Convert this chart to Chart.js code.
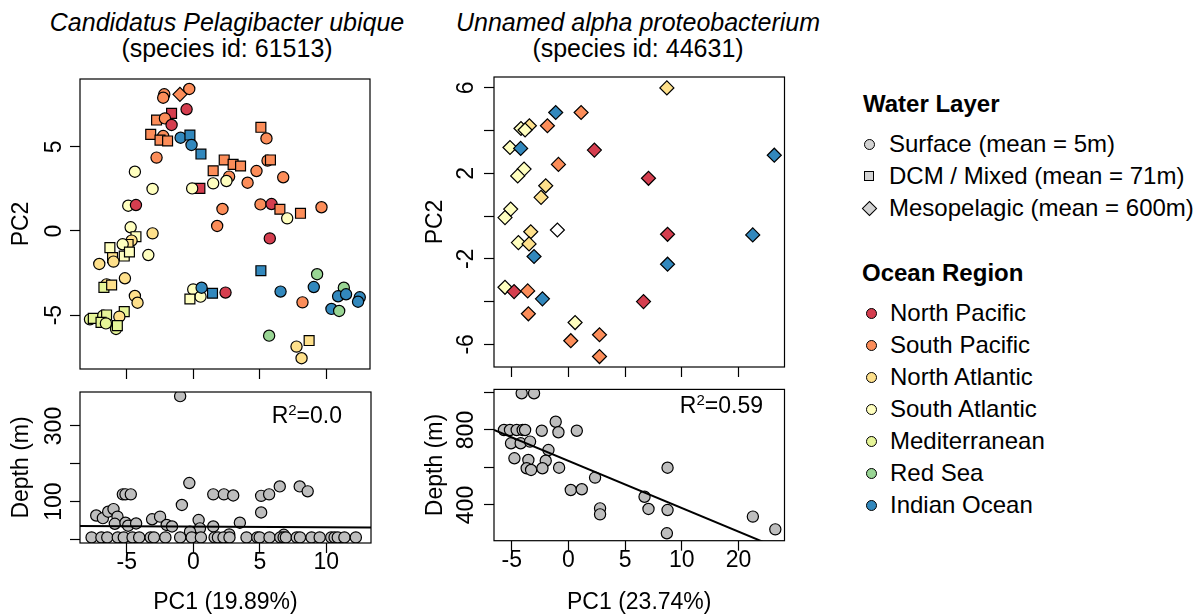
<!DOCTYPE html>
<html>
<head>
<meta charset="utf-8">
<script src="https://cdn.jsdelivr.net/npm/chart.js@4.4.1/dist/chart.umd.min.js"></script>
<style>
  body { margin: 0; background: #fff; font-family: 'Liberation Sans', Arial, sans-serif; color: #000; }
  #page { position: relative; width: 1201px; height: 616px; overflow: hidden; }
  canvas { position: absolute; }
  .title { position: absolute; top: 9px; width: 440px; font-size: 25px; line-height: 26px; text-align: center; }
  .leg { position: absolute; font-size: 24px; line-height: 32px; white-space: nowrap; }
  .head { font-weight: bold; }
  .sym { position: absolute; border: 1px solid #000; box-sizing: border-box; }
</style>
</head>
<body>
<div id="page">
  <div class="title" style="left:7px"><i>Candidatus Pelagibacter ubique</i><br>(species id: 61513)</div>
  <div class="title" style="left:418px"><i>Unnamed alpha proteobacterium</i><br>(species id: 44631)</div>
  <canvas id="pcaA"   width="385" height="320" style="left:0;top:60px"></canvas>
  <canvas id="depthA" width="385" height="236" style="left:0;top:380px"></canvas>
  <canvas id="pcaB"   width="385" height="320" style="left:414px;top:60px"></canvas>
  <canvas id="depthB" width="385" height="236" style="left:414px;top:380px"></canvas>
  <div id="legend"></div>
</div>
<script>
// ============================================================
// PCA of two species, coloured by ocean region, shaped by layer
// ============================================================

const REGION_COLORS = {
  NP:  '#D53E4F',   // North Pacific
  SP:  '#FC8D59',   // South Pacific
  NAt: '#FEE08B',   // North Atlantic
  SAt: '#FFFFBF',   // South Atlantic
  Med: '#E6F598',   // Mediterranean
  RS:  '#99D594',   // Red Sea
  IO:  '#3288BD',   // Indian Ocean
  '?': '#FFFFFF',
};
const REGION_NAMES = ['North Pacific', 'South Pacific', 'North Atlantic', 'South Atlantic',
                      'Mediterranean', 'Red Sea', 'Indian Ocean'];
const REGION_KEYS  = ['NP', 'SP', 'NAt', 'SAt', 'Med', 'RS', 'IO'];
const LAYER_NAMES  = ['Surface (mean = 5m)', 'DCM / Mixed (mean = 71m)', 'Mesopelagic (mean = 600m)'];
const LAYER_KEYS   = ['S', 'D', 'M'];
const LAYER_STYLE  = { S: 'circle', D: 'rect', M: 'rectRot' };
const LAYER_RADIUS = { S: 5.6, D: 7, M: 7 };
const GREY = '#BEBEBE';

// ---- species 61513 : PCA ----
const pc1A = [-0.3, -1.0, -2.18, -2.26, -0.5, -1.63, -2.76, -2.13, -1.63, -3.2,
  -2.26, -2.5, -1.93, -0.95, -0.25, -0.13, 0.58, 5.09, 5.51, 5.59,
  5.81, -2.76, 2.33, 3.0, 3.56, 1.5, 2.7, 4.76, 6.77, 4.09,
  -4.39, -3.06, 1.5, 2.5, 0.5, -0.08, 2.2, 1.8, 5.06, 5.89,
  6.52, 7.07, 8.07, 9.65, 5.76, -4.89, -4.31, -4.71, -3.06, -4.31,
  -4.64, -4.9, -5.31, -6.27, -6.07, -5.19, -4.8, -7.07, -3.38, -6.0,
  -5.14, -6.52, -6.72, -6.14, -4.39, -4.19, -5.19, -5.56, -7.77, -7.52,
  -6.77, -6.52, -6.94, -6.57, -5.81, -5.71, 0.0, 0.55, -0.25, 0.63,
  1.45, 2.43, 5.09, 6.57, 8.22, 9.32, 9.07, 11.33, 10.9, 11.5,
  12.53, 12.4, 10.4, 10.98, 5.71, 7.77, 8.15, 8.72];
const pc2A = [8.44, 8.12, 8.12, 7.92, 7.23, 6.99, 6.59, 6.69, 6.3, 5.74,
  5.64, 5.4, 5.35, 5.54, 5.7, 5.11, 4.57, 6.16, 5.5, 4.18,
  4.22, 4.36, 4.22, 3.96, 3.86, 3.58, 3.23, 3.56, 3.19, 2.87,
  3.52, 2.5, 2.83, 2.97, 2.53, 2.53, 1.31, 0.3, 1.58, 1.6,
  1.29, 0.75, 1.05, 1.41, -0.44, 1.5, 1.54, 0.22, -0.14, -0.34,
  -0.57, -0.8, -0.79, -0.99, -1.58, -1.49, -1.25, -1.96, -1.43, -1.82,
  -2.81, -3.17, -3.35, -3.21, -3.86, -4.26, -4.79, -5.09, -5.25, -5.19,
  -5.03, -4.99, -5.43, -5.49, -5.82, -5.62, -3.47, -3.9, -4.04, -3.37,
  -3.7, -3.66, -2.36, -3.6, -4.24, -2.57, -3.33, -3.37, -3.88, -3.76,
  -3.94, -4.2, -4.63, -4.75, -6.22, -6.87, -7.56, -6.51];
const regionA = ['SP', 'SP', 'SP', 'SP', 'NP', 'NP', 'SP', 'SP', 'NP', 'SP',
  'SP', 'SP', 'SP', 'IO', 'IO', 'IO', 'IO', 'SP', 'SP', 'SP',
  'SP', 'SP', 'SP', 'SP', 'SP', 'SP', 'SP', 'SP', 'SP', 'SP',
  'SAt', 'SAt', 'SAt', 'SAt', 'NP', 'SAt', 'SP', 'SP', 'SP', 'NP',
  'SP', 'SAt', 'SP', 'SP', 'NP', 'SAt', 'NP', 'SAt', 'NAt', 'SAt',
  'NAt', 'NAt', 'SAt', 'SAt', 'NAt', 'SAt', 'SAt', 'NAt', 'SAt', 'NAt',
  'NAt', 'NAt', 'Med', 'NAt', 'NAt', 'NAt', 'Med', 'NAt', 'Med', 'Med',
  'Med', 'Med', 'Med', 'Med', 'Med', 'Med', 'SAt', 'SAt', 'SAt', 'IO',
  'IO', 'NP', 'IO', 'IO', 'SP', 'RS', 'IO', 'RS', 'IO', 'IO',
  'IO', 'IO', 'IO', 'RS', 'RS', 'NAt', 'NAt', 'NAt'];
const layerA = ['S', 'M', 'S', 'S', 'S', 'D', 'D', 'S', 'S', 'D',
  'S', 'D', 'D', 'S', 'D', 'S', 'D', 'D', 'S', 'S',
  'D', 'S', 'D', 'D', 'D', 'D', 'S', 'S', 'S', 'S',
  'S', 'S', 'S', 'S', 'D', 'S', 'S', 'S', 'S', 'S',
  'D', 'S', 'D', 'S', 'S', 'S', 'S', 'S', 'S', 'D',
  'S', 'D', 'S', 'D', 'D', 'D', 'D', 'S', 'S', 'S',
  'S', 'S', 'D', 'D', 'S', 'S', 'D', 'S', 'S', 'D',
  'S', 'D', 'D', 'S', 'S', 'D', 'S', 'S', 'D', 'S',
  'D', 'S', 'D', 'S', 'S', 'S', 'S', 'S', 'S', 'S',
  'S', 'S', 'S', 'S', 'S', 'S', 'S', 'D'];

// ---- species 61513 : depth vs PC1 ----
const depthPc1A = [-0.99, -0.3, -0.86, -5.3, -5.1, -4.7, -7.3, -6.8, -6.4, -6.0,
  -5.7, -5.9, -5.1, -4.9, -4.3, -3.1, -2.5, -2.0, -1.6, 0.4,
  0.5, -0.25, 1.5, 1.5, 2.3, 3.0, 3.5, 5.1, 5.7, 6.5,
  5.1, 8.0, 8.6, 2.7, 6.8,
  -7.65, -6.91, -6.47, -5.68, -5.23, -4.57, -4.07, -3.21, -2.96, -2.1,
  -0.99, -0.12, 0.57, 1.6, 1.85, 2.27, 2.72, 4.0, 4.81, 4.99,
  5.73, 6.54, 6.79, 6.96, 7.78, 8.02, 8.89, 9.5, 10.37, 10.62,
  10.86, 11.36, 12.22];
const depthA = [379, 149, 91, 119, 119, 119, 63, 56, 73, 80,
  60, 41, 44, 36, 42, 53, 60, 38, 34, 51,
  29, 20, 34, 119, 119, 116, 44, 115, 119, 140,
  71, 140, 127, 13, 12,
  5, 5, 5, 5, 5, 5, 5, 5, 5, 5,
  5, 5, 5, 5, 5, 5, 5, 5, 5, 5,
  5, 5, 5, 5, 5, 5, 5, 5, 5, 5,
  5, 5, 5];
const fitPc1A   = [-8.52, 13.36];
const fitDepthA = [35, 31];
const r2A = '0.0';

// ---- species 44631 : PCA (all mesopelagic) ----
const pc1B = [8.68, -1.12, 1.12, -4.18, -3.44, -3.82, -1.85, -5.15, -4.21, 2.29,
  -0.88, 26.3, -3.91, -4.47, 7.06, -2.0, -2.41, -5.09, -5.59, -0.97,
  -3.32, -4.41, -3.47, 8.74, 22.5, -3.03, 8.74, -5.59, -4.79, -3.59,
  -2.29, 6.62, -3.53, 0.59, 0.21, 2.74, 2.74];
const pc2B = [6.0, 4.85, 4.85, 4.1, 4.23, 4.03, 4.23, 3.21, 3.17, 3.09,
  2.42, 2.85, 2.2, 1.88, 1.77, 1.42, 0.88, 0.33, -0.07, -0.65,
  -0.73, -1.24, -1.3, -0.85, -0.88, -1.89, -2.25, -3.33, -3.53, -3.5,
  -3.87, -4.0, -4.57, -4.98, -5.83, -5.55, -6.57];
const regionB = ['NAt', 'IO', 'SP', 'SAt', 'NAt', 'SAt', 'SP', 'SAt', 'IO', 'NP',
  'SP', 'IO', 'SAt', 'SAt', 'NP', 'NAt', 'NAt', 'SAt', 'SAt', '?',
  'NAt', 'SAt', 'NAt', 'NP', 'IO', 'IO', 'IO', 'SAt', 'NP', 'SP',
  'IO', 'NP', 'SP', 'SAt', 'SP', 'SP', 'SP'];

// ---- species 44631 : depth vs PC1 ----
const depthPc1B = [-4.12, -3.03, -5.68, -5.15, -4.56, -4.03, -3.82, -2.35, -1.12, -0.88,
  0.74, -5.06, -4.21, -3.38, -1.76, -2.0, -4.76, -3.53, -3.68, -3.29,
  -2.29, -0.82, 2.35, 0.21, 1.18, 2.79, 2.79, 6.71, 7.06, 8.74,
  8.74, 8.68, 22.52, 26.48];
const depthB = [996, 996, 800, 800, 800, 800, 800, 796, 844, 788,
  796, 729, 729, 738, 693, 636, 649, 640, 596, 587,
  596, 599, 546, 480, 484, 382, 350, 444, 379, 599,
  373, 249, 338, 270];
const fitPc1B   = [-6.56, 25];
const fitDepthB = [800, 195];
const r2B = '0.59';

// axis ticks
const pc1TicksA    = [-5, 0, 5, 10];
const pc2TicksA    = [-5, 0, 5];
const pc2LabelsA   = ['-5', '0', '5'];
const depthTicksA  = [0, 100, 200, 300];
const depthLabelsA = ['', '100', '', '300'];
const pc1TicksB    = [-5, 0, 5, 10, 20];
const pc2TicksB    = [-6, -4, -2, 0, 2, 4, 6];
const pc2LabelsB   = ['-6', '', '-2', '', '2', '', '6'];
const depthTicksB  = [400, 600, 800, 1000];
const depthLabelsB = ['400', '', '800', ''];

// right-hand PC1 axis is broken: 10..20 is drawn at half width
function squeeze(x) { return x <= 10 ? x : 10 + (x - 10) / 2; }

const FONT = "'Liberation Sans', Arial, sans-serif";
Chart.defaults.font.family = FONT;
Chart.defaults.font.size = 23;
Chart.defaults.color = '#000';

// box around the plot, rotated y labels, R² note
function framePlugin(yLabels, labelGap, note) {
  return {
    id: 'frame',
    afterDraw(chart) {
      const { ctx, chartArea: a } = chart;
      const y = chart.scales.y;
      ctx.save();
      ctx.strokeStyle = '#000';
      ctx.lineWidth = 1.2;
      ctx.strokeRect(a.left, a.top, a.right - a.left, a.bottom - a.top);
      ctx.fillStyle = '#000';
      ctx.font = '23px ' + FONT;
      ctx.textAlign = 'center';
      ctx.textBaseline = 'middle';
      y.ticks.forEach((t, i) => {
        if (!yLabels[i]) return;
        ctx.save();
        ctx.translate(a.left - labelGap, y.getPixelForValue(t.value));
        ctx.rotate(-Math.PI / 2);
        ctx.fillText(yLabels[i], 0, 0);
        ctx.restore();
      });
      if (note) {
        // "R" + superscript "2" + "=value", right aligned
        const big = '23px ' + FONT, small = '15px ' + FONT;
        const tail = '=' + note.value;
        ctx.textAlign = 'left';
        ctx.textBaseline = 'alphabetic';
        ctx.font = big;
        const wR = ctx.measureText('R').width, wT = ctx.measureText(tail).width;
        ctx.font = small;
        const w2 = ctx.measureText('2').width;
        let x = a.right - note.dx - (wR + w2 + wT);
        const base = a.top + note.dy + 8;
        ctx.font = big;   ctx.fillText('R', x, base);  x += wR;
        ctx.font = small; ctx.fillText('2', x, base - 8); x += w2;
        ctx.font = big;   ctx.fillText(tail, x, base);
      }
      ctx.restore();
    }
  };
}

function xScale(min, max, ticks, showLabels, title, axisHeight, tickPos) {
  tickPos = tickPos || (v => v);
  return {
    type: 'linear', min, max,
    afterBuildTicks: s => { s.ticks = ticks.map(v => ({ value: tickPos(v) })); },
    afterFit: s => { s.height = axisHeight; },
    grid: { drawOnChartArea: false, drawTicks: true, tickLength: 10, tickWidth: 1.2, tickColor: '#000' },
    border: { display: false },
    ticks: {
      display: showLabels, autoSkip: false, maxRotation: 0, padding: -2,
      font: { size: 23, lineHeight: 1 },
      callback: (v, i) => String(ticks[i]),
    },
    title: { display: !!title, text: title || '', font: { size: 23 }, padding: { top: 0, bottom: 0 } },
  };
}

function yScale(min, max, ticks, title) {
  return {
    type: 'linear', min, max,
    afterBuildTicks: s => { s.ticks = ticks.map(v => ({ value: v })); },
    afterFit: s => { s.width = 80; },
    grid: { drawOnChartArea: false, drawTicks: true, tickLength: 10, tickWidth: 1.2, tickColor: '#000' },
    border: { display: false },
    ticks: { display: false },
    title: { display: true, text: title, font: { size: 23 }, padding: { top: 8, bottom: 0 } },
  };
}

function pointSet(xs, ys, regions, layers, xf) {
  xf = xf || (v => v);
  return {
    data: xs.map((x, i) => ({ x: xf(x), y: ys[i] })),
    pointStyle:           layers.map(l => LAYER_STYLE[l]),
    pointRadius:          layers.map(l => LAYER_RADIUS[l]),
    pointBackgroundColor: regions ? regions.map(r => REGION_COLORS[r]) : GREY,
    pointBorderColor:     '#000',
    pointBorderWidth:     1.2,
  };
}

function fitLine(xs, ys, xf) {
  xf = xf || (v => v);
  return {
    data: xs.map((x, i) => ({ x: xf(x), y: ys[i] })),
    showLine: true, borderColor: '#000', borderWidth: 2, pointRadius: 0,
  };
}

function makeChart(id, datasets, scales, padding, plugin) {
  return new Chart(document.getElementById(id), {
    type: 'scatter',
    data: { datasets },
    options: {
      responsive: false, animation: false, events: [],
      layout: { padding },
      plugins: { legend: { display: false }, tooltip: { enabled: false } },
      scales,
    },
    plugins: [plugin],
  });
}

// species 61513
makeChart('pcaA',
  [pointSet(pc1A, pc2A, regionA, layerA)],
  { x: xScale(-8.52, 13.3, pc1TicksA, false, null, 11),
    y: yScale(-8.2, 9.03, pc2TicksA, 'PC2') },
  { top: 19, right: 15, left: 0, bottom: 0 },
  framePlugin(pc2LabelsA, 25));

makeChart('depthA',
  [fitLine(fitPc1A, fitDepthA), pointSet(depthPc1A, depthA, null, depthA.map(() => 'S'))],
  { x: xScale(-8.52, 13.36, pc1TicksA, true, 'PC1 (19.89%)', 73),
    y: yScale(-9.8, 390, depthTicksA, 'Depth (m)') },
  { top: 12, right: 14, left: 0, bottom: 0 },
  framePlugin(depthLabelsA, 25, { value: r2A, dx: 29, dy: 23 }));

// species 44631
makeChart('pcaB',
  [pointSet(pc1B, pc2B, regionB, pc1B.map(() => 'M'), squeeze)],
  { x: xScale(-6.56, 19.05, pc1TicksB, false, null, 13, squeeze),
    y: yScale(-7.06, 6.51, pc2TicksB, 'PC2') },
  { top: 17, right: 14.5, left: 0, bottom: 0 },
  framePlugin(pc2LabelsB, 27));

makeChart('depthB',
  [fitLine(fitPc1B, fitDepthB, squeeze), pointSet(depthPc1B, depthB, null, depthB.map(() => 'S'), squeeze)],
  { x: xScale(-6.56, 19.05, pc1TicksB, true, 'PC1 (23.74%)', 75.3, squeeze),
    y: yScale(209.6, 1016.5, depthTicksB, 'Depth (m)') },
  { top: 9.4, right: 14.5, left: 0, bottom: 0 },
  framePlugin(depthLabelsB, 27, { value: r2B, dx: 21.5, dy: 15.6 }));

// ---- legend (HTML) ----
function symbol(kind, color, cx, cy) {
  const el = document.createElement('div');
  el.className = 'sym';
  let size = 11;
  if (kind === 'rect') size = 10;
  if (kind === 'rectRot') { size = 11; el.style.transform = 'rotate(45deg)'; }
  if (kind === 'circle') el.style.borderRadius = '50%';
  el.style.width = size + 'px';
  el.style.height = size + 'px';
  el.style.left = (cx - size / 2) + 'px';
  el.style.top = (cy - size / 2) + 'px';
  el.style.background = color;
  return el;
}

function legendRow(text, left, top, bold) {
  const el = document.createElement('div');
  el.className = 'leg' + (bold ? ' head' : '');
  el.style.left = left + 'px';
  el.style.top = top + 'px';
  el.textContent = text;
  return el;
}

const legend = document.getElementById('legend');
legend.appendChild(legendRow('Water Layer', 863, 88, true));
LAYER_NAMES.forEach((name, i) => {
  const cy = 144 + i * 32;
  legend.appendChild(symbol(LAYER_STYLE[LAYER_KEYS[i]], '#D3D3D3', 869, cy));
  legend.appendChild(legendRow(name, 889, cy - 16));
});
legend.appendChild(legendRow('Ocean Region', 862, 257, true));
REGION_NAMES.forEach((name, i) => {
  const cy = 313 + i * 32;
  legend.appendChild(symbol('circle', REGION_COLORS[REGION_KEYS[i]], 871, cy));
  legend.appendChild(legendRow(name, 890, cy - 16));
});
</script>
</body>
</html>
